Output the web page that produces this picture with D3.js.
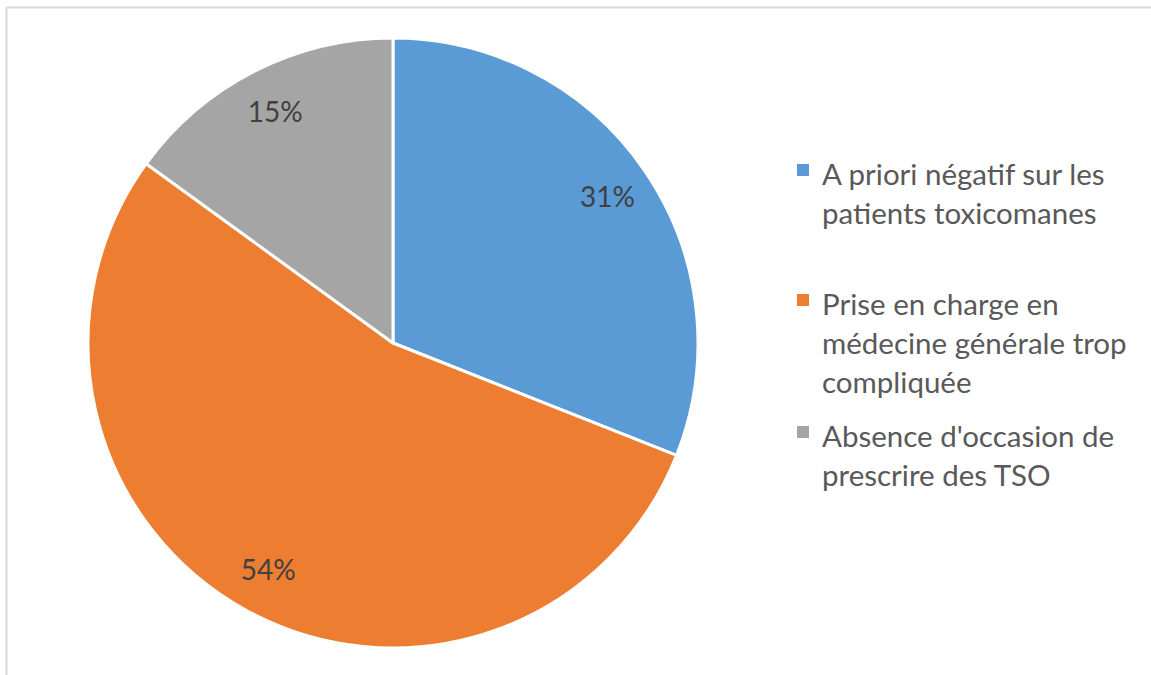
<!DOCTYPE html>
<html>
<head>
<meta charset="utf-8">
<script src="https://cdn.jsdelivr.net/npm/d3@7"></script>
<style>
  body { margin: 0; background: #fff; }
  svg { display: block; font-family: Lato, "Open Sans", sans-serif; }
</style>
</head>
<body>
<script>
// data
var categories = ["A priori négatif sur les patients toxicomanes",
                  "Prise en charge en médecine générale trop compliquée",
                  "Absence d'occasion de prescrire des TSO"];
var legendLines = [["A priori négatif sur les", "patients toxicomanes"],
                   ["Prise en charge en", "médecine générale trop", "compliquée"],
                   ["Absence d'occasion de", "prescrire des TSO"]];
var values = [31, 54, 15];
var colors = ["#5b9bd5", "#ed7d31", "#a5a5a5"];

var width = 1151, height = 675;
var cx = 393, cy = 343, radius = 305;

var svg = d3.select("body").append("svg")
    .attr("width", width)
    .attr("height", height);

// frame (only top and left visible)
svg.append("line").attr("x1", 6.5).attr("y1", 7.5).attr("x2", width).attr("y2", 7.5)
    .attr("stroke", "#d9d9d9").attr("stroke-width", 2);
svg.append("line").attr("x1", 6.5).attr("y1", 7.5).attr("x2", 6.5).attr("y2", height)
    .attr("stroke", "#d9d9d9").attr("stroke-width", 2);

var pie = d3.pie().sort(null).value(function(d){ return d; });
var arcs = pie(values);
var arc = d3.arc().innerRadius(0).outerRadius(radius);
var labelArc = d3.arc().innerRadius(radius * 0.85).outerRadius(radius * 0.85);

var g = svg.append("g").attr("transform", "translate(" + cx + "," + cy + ")");

g.selectAll("path").data(arcs).enter().append("path")
    .attr("d", arc)
    .attr("fill", function(d, i){ return colors[i]; })
    .attr("stroke", "#fff")
    .attr("stroke-width", 3)
    .attr("stroke-linejoin", "round");

var total = d3.sum(values);
g.selectAll("text.lbl").data(arcs).enter().append("text")
    .attr("class", "lbl")
    .attr("transform", function(d){ return "translate(" + labelArc.centroid(d) + ")"; })
    .attr("text-anchor", "middle")
    .attr("dy", "0.35em")
    .attr("font-size", 28)
    .attr("fill", "#404040")
    .text(function(d){ return Math.round(d.value / total * 100) + "%"; });

// legend
var legendTop = [175, 305, 437];
var lineH = 39;
var legend = svg.append("g");
legendLines.forEach(function(lines, i){
    legend.append("rect")
        .attr("x", 797).attr("y", legendTop[i] - 11)
        .attr("width", 12).attr("height", 12)
        .attr("fill", colors[i]);
    var t = legend.append("text")
        .attr("x", 822).attr("y", legendTop[i])
        .attr("font-size", 29.5)
        .attr("fill", "#595959");
    lines.forEach(function(s, j){
        t.append("tspan").attr("x", 822).attr("dy", j === 0 ? "0.35em" : lineH).text(s);
    });
});
</script>
</body>
</html>
